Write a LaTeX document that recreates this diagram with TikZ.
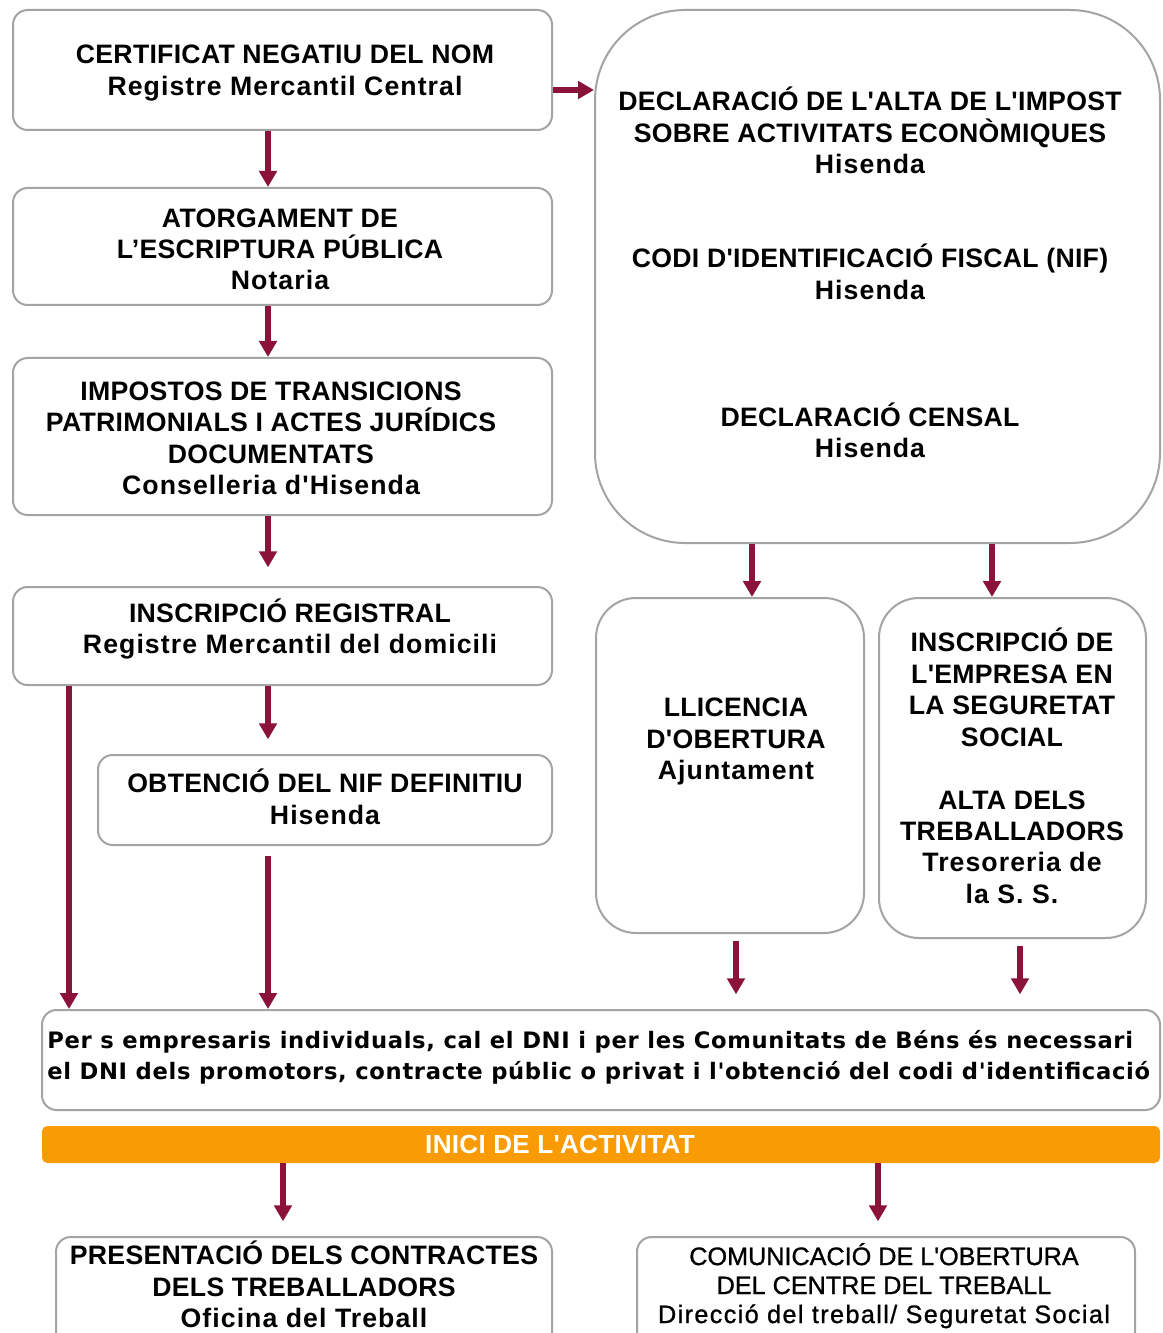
\documentclass[tikz,border=0pt]{standalone}
\usepackage{fontspec}
\setmainfont{Liberation Sans}
\newfontfamily\mainf{Liberation Sans}[LetterSpace=1]
\newfontfamily\lowf{Liberation Sans}[LetterSpace=4]
\newfontfamily\verd{DejaVu Sans}[LetterSpace=2.9]
\newfontfamily\narr{Liberation Sans}[FakeBold=1]
\newfontfamily\narrlow{Liberation Sans}[FakeBold=1,LetterSpace=5.5]
\usetikzlibrary{arrows.meta,calc}
\definecolor{arrc}{HTML}{8B1238}
\definecolor{brd}{HTML}{A4A4A4}
\definecolor{orng}{HTML}{F99B05}
\newcommand\tp{\rule{0pt}{0.95em}}
\newcommand\bt{\rule[-0.235em]{0pt}{0.235em}}
\newcommand\lw[1]{{\lowf #1}}
\tikzset{
  box/.style={draw=brd, line width=1.5pt, fill=white, rounded corners=11pt, inner sep=0pt},
  txt/.style={font=\mainf\bfseries\fontsize{20}{23.6}\selectfont, align=center, inner sep=0pt},
  arr/.style={draw=arrc, line width=4.5pt, -{Triangle[length=12pt,width=13pt]}},
}
\begin{document}
\begin{tikzpicture}[x=0.75pt,y=-0.75pt]
\useasboundingbox (0,0) rectangle (1162,1333);
\clip (0,0) rectangle (1162,1333);
\fill[white] (0,0) rectangle (1162,1333);

% boxes
\node[box, minimum width=404.25pt, minimum height=90pt] (b1) at (282.5,70) {};
\node[box, minimum width=404.25pt, minimum height=87.75pt] (b2) at (282.5,246.5) {};
\node[box, minimum width=404.25pt, minimum height=117.75pt] (b3) at (282.5,436.5) {};
\node[box, minimum width=404.25pt, minimum height=73.5pt] (b4) at (282.5,636) {};
\node[box, minimum width=340.5pt, minimum height=67.5pt] (b5) at (325,800) {};
\node[box, rounded corners=67.5pt, minimum width=423.75pt, minimum height=399.75pt] (big) at (877.5,276.5) {};
\node[box, rounded corners=30pt, minimum width=201pt, minimum height=251.25pt] (llic) at (730,765.5) {};
\node[box, rounded corners=30pt, minimum width=200.25pt, minimum height=255pt] (insc) at (1012.5,768) {};
\node[box, minimum width=838.5pt, minimum height=75pt] (wide) at (601,1060) {};
\node[fill=orng, rounded corners=4pt, inner sep=0pt, minimum width=838.5pt, minimum height=27.75pt] (orange) at (601,1144.5) {};
\node[box, minimum width=372pt, minimum height=84.75pt] (bl) at (304,1293.5) {};
\node[box, minimum width=373.5pt, minimum height=84.75pt] (br) at (886,1293.5) {};

% texts
\node[txt] (t1) at (285,70) {\tp CERTIFICAT NEGATIU DEL NOM\\\lw{Registre Mercantil Central\bt}};
\node[txt] (t2) at (280,249) {\tp ATORGAMENT DE\\L’ESCRIPTURA PÚBLICA\\\lw{Notaria\bt}};
\node[txt] (t3) at (271,438) {\tp IMPOSTOS DE TRANSICIONS\\PATRIMONIALS I ACTES JURÍDICS\\DOCUMENTATS\\\lw{Conselleria d'Hisenda\bt}};
\node[txt] (t4) at (290,628.5) {\tp INSCRIPCIÓ REGISTRAL\\\lw{Registre Mercantil del domicili\bt}};
\node[txt] (t5) at (325,799) {\tp OBTENCIÓ DEL NIF DEFINITIU\\\lw{Hisenda\bt}};
\node[txt] (tb1) at (870,132.5) {\tp DECLARACIÓ DE L'ALTA DE L'IMPOST\\SOBRE ACTIVITATS ECONÒMIQUES\\\lw{Hisenda\bt}};
\node[txt] (tb2) at (870,274) {\tp CODI D'IDENTIFICACIÓ FISCAL (NIF)\\\lw{Hisenda\bt}};
\node[txt] (tb3) at (870,432.5) {\tp DECLARACIÓ CENSAL\\\lw{Hisenda\bt}};
\node[txt] (tl) at (736,738.5) {\tp LLICENCIA\\D'OBERTURA\\\lw{Ajuntament\bt}};
\node[txt] (ti) at (1012,768) {\tp INSCRIPCIÓ DE\\L'EMPRESA EN\\LA SEGURETAT\\SOCIAL\\[23.6pt]ALTA DELS\\TREBALLADORS\\\lw{Tresoreria de}\\\lw{la S. S.\bt}};
\node[inner sep=0pt, anchor=west, align=left, font=\verd\bfseries\fontsize{17}{23.25}\selectfont] (tw) at (47,1055.5)
  {\tp Per s empresaris individuals, cal el DNI i per les Comunitats de Béns és necessari\\el DNI dels promotors, contracte públic o privat i l'obtenció del codi d'identificació\bt};
\node[inner sep=0pt, text=white, font=\mainf\bfseries\fontsize{19.6}{22}\selectfont] (to) at (560,1144.5) {\tp INICI DE L'ACTIVITAT\bt};
\node[txt] (tbl) at (304,1286.7) {\tp PRESENTACIÓ DELS CONTRACTES\\DELS TREBALLADORS\\\lw{Oficina del Treball\bt}};
\node[inner sep=0pt, align=center, font=\narr\fontsize{18.9}{21.75}\selectfont] (tbr) at (884,1285) {\tp COMUNICACIÓ DE L'OBERTURA\\DEL CENTRE DEL TREBALL\\{\narrlow Direcció del treball/ Seguretat Social\bt}};

% arrows
\draw[arr] ($(b1.south)+(-14.5,0)$) -- ($(b2.north)+(-14.5,0)$);
\draw[arr] ($(b2.south)+(-14.5,0)$) -- ($(b3.north)+(-14.5,0)$);
\draw[arr, shorten >=14pt] ($(b3.south)+(-14.5,0)$) -- ($(b4.north)+(-14.5,0)$);
\draw[arr, shorten >=11pt] ($(b4.south)+(-14.5,0)$) -- ($(b5.north)+(-57,0)$);
\draw[arr] ($(b4.south)+(-213.5,0)$) -- ($(wide.north)+(-532,0)$);
\draw[arr, shorten <=7.5pt] ($(b5.south)+(-57,0)$) -- ($(wide.north)+(-333,0)$);
\draw[arr] ($(b1.east)+(0,20)$) -- ($(big.west)+(0,-186.5)$);
\draw[arr] ($(big.south)+(-125.5,0)$) -- ($(llic.north)+(22,0)$);
\draw[arr] ($(big.south)+(114.5,0)$) -- ($(insc.north)+(-20.5,0)$);
\draw[arr, shorten <=5pt, shorten >=11pt] ($(llic.south)+(6,0)$) -- ($(wide.north)+(135,0)$);
\draw[arr, shorten <=5pt, shorten >=11pt] ($(insc.south)+(7.5,0)$) -- ($(wide.north)+(419,0)$);
\draw[arr, shorten >=11pt] ($(orange.south)+(-318,0)$) -- ($(bl.north)+(-21,0)$);
\draw[arr, shorten >=11pt] ($(orange.south)+(277,0)$) -- ($(br.north)+(-8,0)$);
\end{tikzpicture}
\end{document}
